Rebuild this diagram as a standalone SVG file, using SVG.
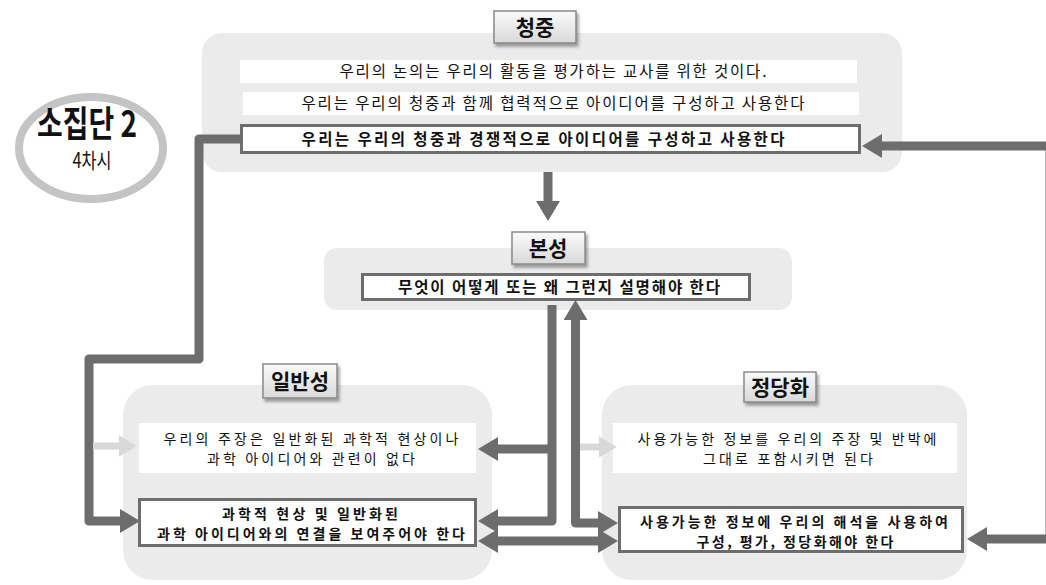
<svg xmlns="http://www.w3.org/2000/svg" width="1046" height="585" viewBox="0 0 1046 585">
<defs>
<style>
.panel{fill:#ebebeb}
.row{fill:#ffffff}
.bold{fill:#ffffff;stroke:#6d6d6d;stroke-width:3}
.t{font-family:"Noto Sans CJK KR","Noto Sans",sans-serif;font-size:15.5px;fill:#111;text-anchor:middle}
.tb{font-family:"Noto Sans CJK KR","Noto Sans",sans-serif;font-size:15.5px;font-weight:bold;fill:#111;text-anchor:middle}
.m{font-size:14px}
.hd{font-family:"Noto Sans CJK KR","Noto Sans",sans-serif;font-size:21px;font-weight:bold;fill:#111;text-anchor:middle}
.btn{fill:url(#btnGrad);stroke:#8a8a8a;stroke-width:1.5;filter:url(#sh)}
.con{fill:none;stroke:#6d6d6d;stroke-width:9;stroke-linejoin:round}
.lt{fill:none;stroke:#d8d8d8;stroke-width:7}
</style>
<linearGradient id="btnGrad" x1="0" y1="0" x2="0" y2="1">
<stop offset="0" stop-color="#fafafa"/>
<stop offset="1" stop-color="#d9d9d9"/>
</linearGradient>
<filter id="sh" x="-20%" y="-30%" width="150%" height="170%">
<feDropShadow dx="2" dy="3" stdDeviation="1.5" flood-color="#555" flood-opacity="0.55"/>
</filter>
<marker id="ah" viewBox="0 0 20 24" refX="8" refY="12" markerWidth="20" markerHeight="24" orient="auto-start-reverse" markerUnits="userSpaceOnUse">
<path d="M0,0 L20,12 L0,24 z" fill="#6d6d6d"/>
</marker>
<marker id="ahl" viewBox="0 0 20 24" refX="8" refY="12" markerWidth="18" markerHeight="22" orient="auto-start-reverse" markerUnits="userSpaceOnUse">
<path d="M0,0 L20,12 L0,24 z" fill="#d8d8d8"/>
</marker>
</defs>
<rect width="1046" height="585" fill="#ffffff"/>

<g id="node-badge">
<ellipse cx="91" cy="148" rx="72" ry="51" fill="#ffffff" stroke="#c4c4c4" stroke-width="8"/>
<text x="87" y="137" font-family="'Noto Sans CJK KR',sans-serif" font-size="36" font-weight="bold" fill="#111" text-anchor="middle" textLength="100" lengthAdjust="spacingAndGlyphs">소집단 2</text>
<text x="92" y="168" font-family="'Noto Sans CJK KR',sans-serif" font-size="21" fill="#111" text-anchor="middle" textLength="39" lengthAdjust="spacingAndGlyphs">4차시</text>
</g>

<g id="node-audience">
<rect class="panel" x="202" y="33" width="700" height="139" rx="20"/>
<rect class="row" x="240" y="60" width="617" height="23"/>
<text class="t" x="553" y="77" textLength="427" lengthAdjust="spacing">우리의 논의는 우리의 활동을 평가하는 교사를 위한 것이다.</text>
<rect class="row" x="243" y="92" width="616" height="23"/>
<text class="t" x="553" y="109" textLength="503" lengthAdjust="spacing">우리는 우리의 청중과 함께 협력적으로 아이디어를 구성하고 사용한다</text>
<rect class="bold" x="241.5" y="125.5" width="618" height="27"/>
<text class="tb" x="543" y="144.5" textLength="483" lengthAdjust="spacing">우리는 우리의 청중과 경쟁적으로 아이디어를 구성하고 사용한다</text>
<rect class="btn" x="494" y="11" width="82" height="32"/>
<text class="hd" x="535" y="35">청중</text>
</g>

<g id="node-nature">
<rect class="panel" x="324" y="248" width="468" height="62" rx="13"/>
<rect class="bold" x="362.5" y="274.5" width="387" height="25"/>
<text class="tb" x="559" y="292.5" textLength="322" lengthAdjust="spacing">무엇이 어떻게 또는 왜 그런지 설명해야 한다</text>
<rect class="btn" x="512" y="232" width="73" height="32"/>
<text class="hd" x="548" y="256">본성</text>
</g>

<g id="node-general">
<rect class="panel" x="123" y="385" width="369" height="195" rx="30"/>
<rect class="row" x="139" y="423" width="337" height="50"/>
<text class="t m" x="311" y="444" textLength="295" lengthAdjust="spacing">우리의 주장은 일반화된 과학적 현상이나</text>
<text class="t m" x="311" y="464" textLength="208" lengthAdjust="spacing">과학 아이디어와 관련이 없다</text>
<rect class="bold" x="139.5" y="499.5" width="336" height="46"/>
<text class="tb m" x="310" y="519" textLength="176" lengthAdjust="spacing">과학적 현상 및 일반화된</text>
<text class="tb m" x="311" y="539" textLength="308" lengthAdjust="spacing">과학 아이디어와의 연결을 보여주어야 한다</text>
<rect class="btn" x="263" y="364" width="74" height="34"/>
<text class="hd" x="300" y="389">일반성</text>
</g>

<g id="node-justify">
<rect class="panel" x="602" y="385" width="365" height="195" rx="30"/>
<rect class="row" x="613" y="423" width="344" height="50"/>
<text class="t m" x="787" y="444" textLength="299" lengthAdjust="spacing">사용가능한 정보를 우리의 주장 및 반박에</text>
<text class="t m" x="788" y="464" textLength="170" lengthAdjust="spacing">그대로 포함시키면 된다</text>
<rect class="bold" x="619.5" y="507.5" width="343" height="44"/>
<text class="tb m" x="794" y="527" textLength="308" lengthAdjust="spacing">사용가능한 정보에 우리의 해석을 사용하여</text>
<text class="tb m" x="795" y="547" textLength="197" lengthAdjust="spacing">구성, 평가, 정당화해야 한다</text>
<rect class="btn" x="744" y="372" width="72" height="30"/>
<text class="hd" x="780" y="395">정당화</text>
</g>

<g id="connectors">
<path class="con" d="M240,139 H199 V359 H89 V521 H128" marker-end="url(#ah)"/>
<path class="lt" d="M93,446 H126" marker-end="url(#ahl)"/>
<path class="con" d="M548,172 V209" marker-end="url(#ah)"/>
<path class="con" d="M552,305 V521 H490" marker-end="url(#ah)"/>
<path class="con" d="M552,449 H490" marker-end="url(#ah)"/>
<path class="con" d="M606,523 H575.5 V312" marker-start="url(#ah)" marker-end="url(#ah)"/>
<path class="con" d="M490,541 H606" marker-start="url(#ah)" marker-end="url(#ah)"/>
<path class="lt" d="M580,447 H606" marker-end="url(#ahl)"/>
<path class="con" d="M979,539 H1050 V146 H874" marker-start="url(#ah)" marker-end="url(#ah)"/>
</g>
</svg>
